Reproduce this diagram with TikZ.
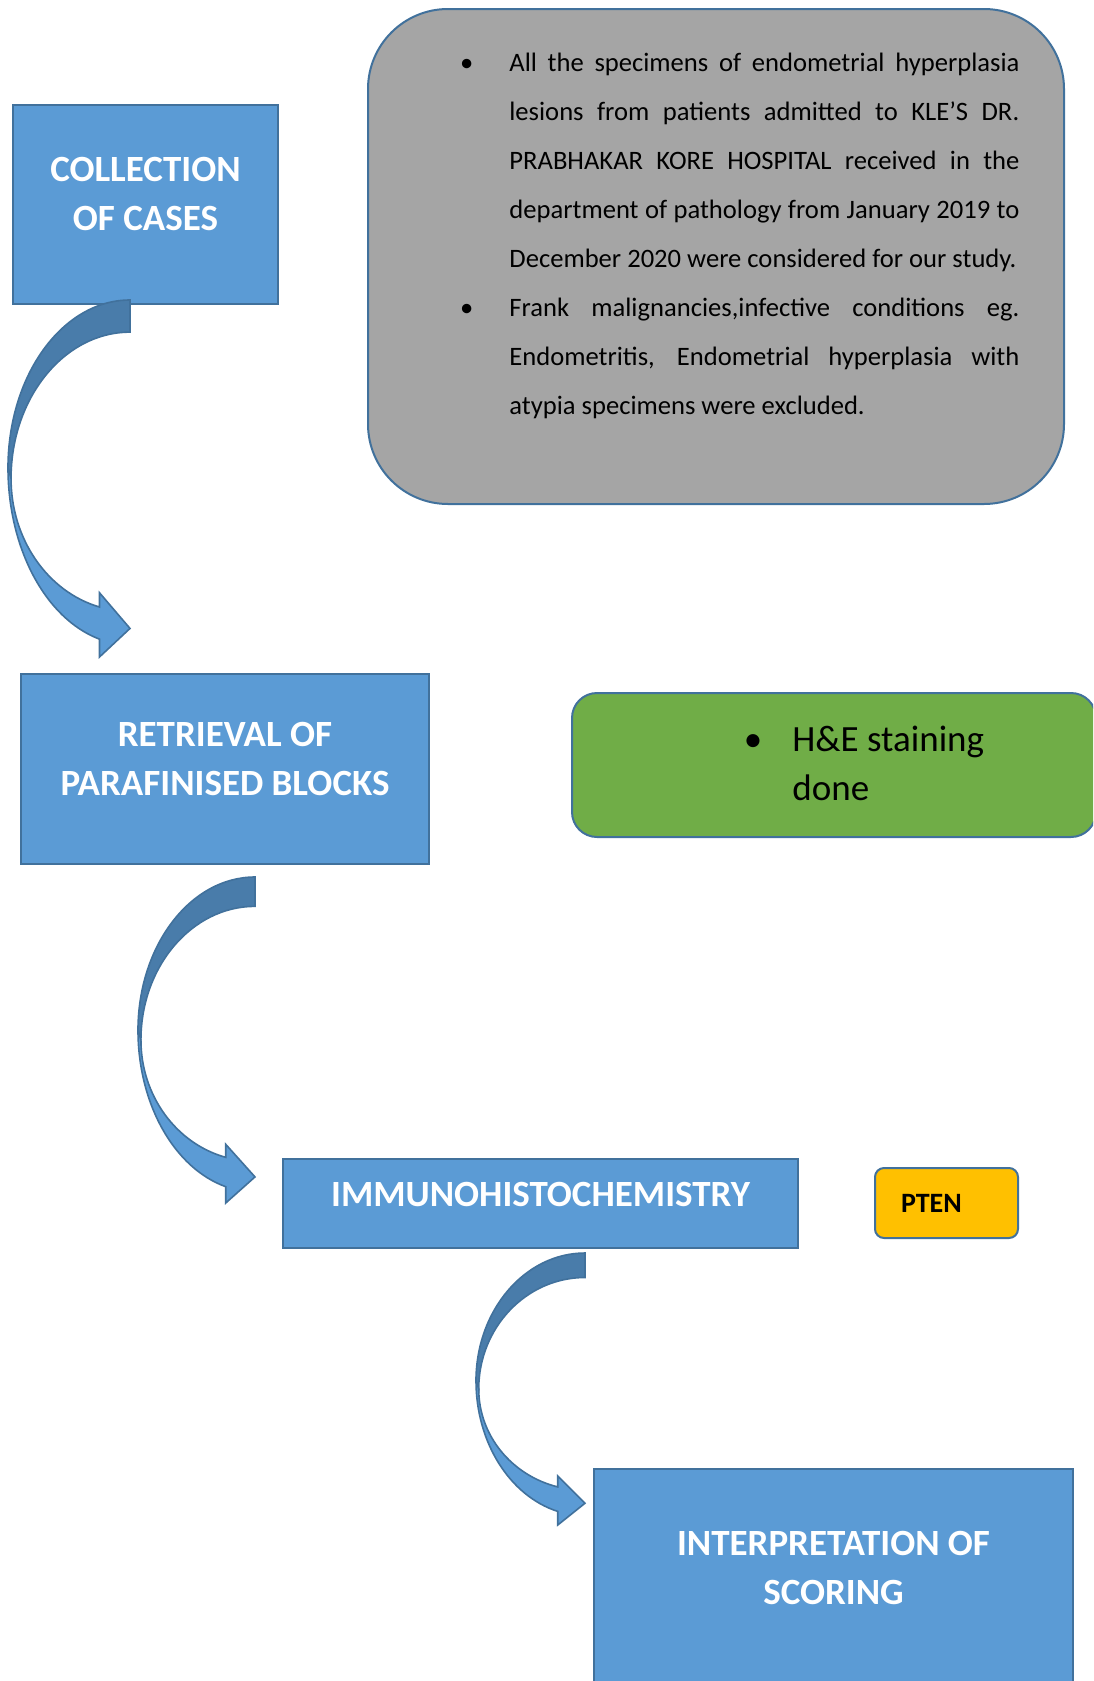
\documentclass[tikz,border=0pt]{standalone}
\usepackage{fontspec}
\setmainfont{Carlito}
\usepackage{tikz}
\usetikzlibrary{positioning}
\usepackage{xcolor}
\definecolor{boxblue}{HTML}{5B9BD5}
\definecolor{edgeblue}{HTML}{41719C}
\definecolor{ribbonback}{HTML}{497CAA}
\definecolor{panelgray}{HTML}{A5A5A5}
\definecolor{stepgreen}{HTML}{70AD47}
\definecolor{markergold}{HTML}{FFC000}

\tikzset{
  curvarrow/.pic={
    \filldraw[fill=ribbonback, draw=edgeblue, line width=0.8pt]
      (1,0) .. controls (0.448,0) and (0,0.211) .. (0,0.47)
      -- (0.025,0.5) .. controls (0.025,0.274) and (0.462,0.09) .. (1,0.09) -- cycle;
    \filldraw[fill=boxblue, draw=edgeblue, line width=0.8pt]
      (0,0.47) .. controls (0,0.696) and (0.309,0.893) .. (0.75,0.95)
      -- (0.75,1) -- (1,0.92) -- (0.75,0.82) -- (0.75,0.86)
      .. controls (0.322,0.817) and (0.025,0.669) .. (0.025,0.5) -- cycle;
  }
}

\begin{document}
\begin{tikzpicture}[x=0.5pt, y=-0.5pt,
  stepbox/.style={draw=edgeblue, fill=boxblue, line width=1pt, inner sep=0},
  steptext/.style={text=white, inner sep=0, align=center, font=\bfseries\fontsize{18.5}{24.5}\selectfont}]
  \useasboundingbox (0,0) rectangle (1093,1681);
  \clip (0,0) rectangle (1093,1681);

  \node[stepbox, minimum width=132.5pt, minimum height=99.5pt] (coll) at (145.5,204.5) {};
  \node[steptext, below=26.5pt of coll.north] (colltxt) {COLLECTION\\OF CASES};

  \node[stepbox, minimum width=204pt, minimum height=95pt] (retr) at (225,769) {};
  \node[steptext, below=24.5pt of retr.north] (retrtxt) {RETRIEVAL OF\\PARAFINISED BLOCKS};

  \node[stepbox, minimum width=257.5pt, minimum height=44.5pt] (ihc) at (540.5,1203.5) {};
  \node[steptext, below=12pt of ihc.north] (ihctxt) {IMMUNOHISTOCHEMISTRY};

  \node[stepbox, minimum width=239.5pt, minimum height=145.5pt] (score) at (833.5,1614.5) {};
  \node[steptext, below=31.5pt of score.north] (scoretxt) {INTERPRETATION OF\\SCORING};

  \node[draw=edgeblue, fill=panelgray, line width=1pt, rounded corners=40pt,
        minimum width=348pt, minimum height=247.5pt, inner sep=0] (incl) at (716,256.5) {};
  \node[anchor=north west, inner sep=0, text width=255pt, align=justify,
        font=\fontsize{13.3}{24.5}\selectfont] (incltxt) at (509,53) {%
    \noindent\llap{\textbullet\hspace{18pt}}All the specimens of endometrial hyperplasia\linebreak
    lesions from patients admitted to KLE’S DR.\linebreak
    PRABHAKAR KORE HOSPITAL received in the\linebreak
    department of pathology from January 2019 to\linebreak
    December 2020 were considered for our study.\par
    \noindent\llap{\textbullet\hspace{18pt}}Frank malignancies,infective conditions eg.\linebreak
    Endometritis, Endometrial hyperplasia with\linebreak
    atypia specimens were excluded.};

  \node[draw=edgeblue, fill=stepgreen, line width=1pt, rounded corners=12.5pt,
        minimum width=262pt, minimum height=72pt, inner sep=0] (stain) at (834,765) {};
  \node[anchor=north west, inner sep=0, align=left,
        font=\fontsize{18.5}{24.5}\selectfont] (staintxt) at (792,726) {\llap{\textbullet\hspace{15pt}}H\&E staining\\done};

  \node[draw=edgeblue, fill=markergold, line width=1pt, rounded corners=4.5pt,
        minimum width=71.5pt, minimum height=35pt, text width=45.5pt, inner xsep=13pt,
        align=left, font=\bfseries\fontsize{14}{17}\selectfont] (pten) at (946.5,1203) {PTEN};

  \pic[shift={(8,300)}, xscale=122, yscale=357] {curvarrow};
  \pic[shift={(138,877)}, xscale=117, yscale=326] {curvarrow};
  \pic[shift={(476,1253)}, xscale=109, yscale=272] {curvarrow};
\end{tikzpicture}
\end{document}
